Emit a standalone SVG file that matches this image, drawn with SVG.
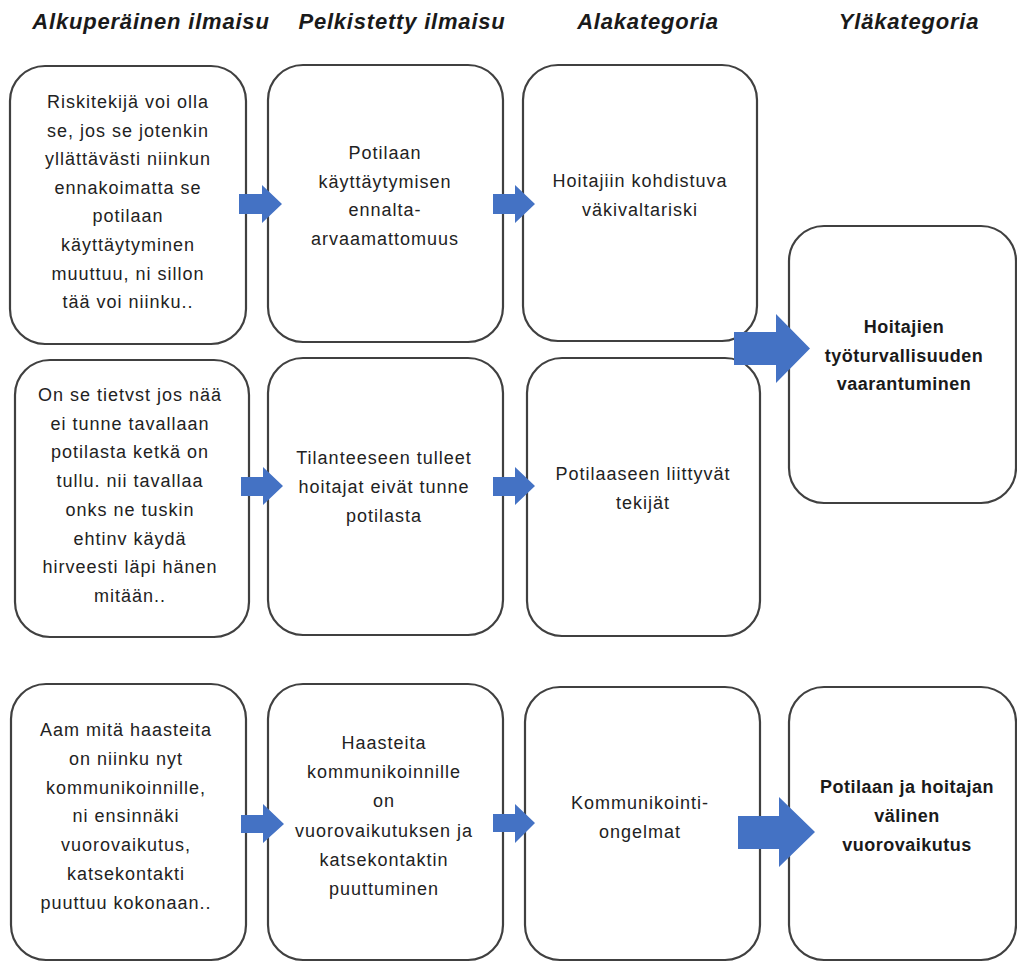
<svg xmlns="http://www.w3.org/2000/svg" width="1017" height="963" viewBox="0 0 1017 963">
<style>
.bg{fill:#ffffff}
.box{fill:#ffffff;stroke:#404040;stroke-width:2.2}
.hdr{font-family:"Liberation Sans",Arial,sans-serif;font-size:22px;font-weight:bold;font-style:italic;fill:#1a1a1a;text-anchor:middle;letter-spacing:0.8px}
.t{font-family:"Liberation Sans",Arial,sans-serif;font-size:18px;fill:#222222;text-anchor:middle;letter-spacing:1px}
.tb{font-family:"Liberation Sans",Arial,sans-serif;font-size:18px;font-weight:bold;fill:#1a1a1a;text-anchor:middle;letter-spacing:0.5px}
.arr{fill:#4472C4}
</style>
<rect class="bg" x="0" y="0" width="1017" height="963"/>
<g id="headers">
<text class="hdr" x="151" y="29">Alkuperäinen ilmaisu</text>
<text class="hdr" x="402" y="29">Pelkistetty ilmaisu</text>
<text class="hdr" x="648" y="29">Alakategoria</text>
<text class="hdr" x="909" y="29">Yläkategoria</text>
</g>
<g id="a1">
<rect class="box" x="10" y="66" width="236" height="278" rx="35"/>
<text class="t"><tspan x="128" y="108">Riskitekijä voi olla</tspan><tspan x="128" dy="28.6">se, jos se jotenkin</tspan><tspan x="128" dy="28.6">yllättävästi niinkun</tspan><tspan x="128" dy="28.6">ennakoimatta se</tspan><tspan x="128" dy="28.6">potilaan</tspan><tspan x="128" dy="28.6">käyttäytyminen</tspan><tspan x="128" dy="28.6">muuttuu, ni sillon</tspan><tspan x="128" dy="28.6">tää voi niinku..</tspan></text>
</g>
<g id="b1">
<rect class="box" x="268" y="65" width="235" height="277" rx="35"/>
<text class="t"><tspan x="385" y="159">Potilaan</tspan><tspan x="385" dy="28.5">käyttäytymisen</tspan><tspan x="385" dy="28.5">ennalta-</tspan><tspan x="385" dy="28.5">arvaamattomuus</tspan></text>
</g>
<g id="c1">
<rect class="box" x="523" y="65" width="234" height="276" rx="35"/>
<text class="t"><tspan x="640" y="187">Hoitajiin kohdistuva</tspan><tspan x="640" dy="29">väkivaltariski</tspan></text>
</g>
<g id="d1">
<rect class="box" x="789" y="226" width="227" height="277" rx="35"/>
<text class="tb"><tspan x="904" y="333">Hoitajien</tspan><tspan x="904" dy="28.5">työturvallisuuden</tspan><tspan x="904" dy="28.5">vaarantuminen</tspan></text>
</g>
<g id="a2">
<rect class="box" x="15" y="360" width="234" height="277" rx="35"/>
<text class="t"><tspan x="130" y="401">On se tietvst jos nää</tspan><tspan x="130" dy="28.7">ei tunne tavallaan</tspan><tspan x="130" dy="28.7">potilasta ketkä on</tspan><tspan x="130" dy="28.7">tullu. nii tavallaa</tspan><tspan x="130" dy="28.7">onks ne tuskin</tspan><tspan x="130" dy="28.7">ehtinv käydä</tspan><tspan x="130" dy="28.7">hirveesti läpi hänen</tspan><tspan x="130" dy="28.7">mitään..</tspan></text>
</g>
<g id="b2">
<rect class="box" x="268" y="358" width="235" height="277" rx="35"/>
<text class="t"><tspan x="384" y="464">Tilanteeseen tulleet</tspan><tspan x="384" dy="29">hoitajat eivät tunne</tspan><tspan x="384" dy="29">potilasta</tspan></text>
</g>
<g id="c2">
<rect class="box" x="527" y="358" width="233" height="278" rx="35"/>
<text class="t"><tspan x="643" y="480">Potilaaseen liittyvät</tspan><tspan x="643" dy="29">tekijät</tspan></text>
</g>
<g id="a3">
<rect class="box" x="11" y="684" width="235" height="276" rx="35"/>
<text class="t"><tspan x="126" y="736">Aam mitä haasteita</tspan><tspan x="126" dy="28.8">on niinku nyt</tspan><tspan x="126" dy="28.8">kommunikoinnille,</tspan><tspan x="126" dy="28.8">ni ensinnäki</tspan><tspan x="126" dy="28.8">vuorovaikutus,</tspan><tspan x="126" dy="28.8">katsekontakti</tspan><tspan x="126" dy="28.8">puuttuu kokonaan..</tspan></text>
</g>
<g id="b3">
<rect class="box" x="268" y="684" width="235" height="276" rx="35"/>
<text class="t"><tspan x="384" y="749">Haasteita</tspan><tspan x="384" dy="29.2">kommunikoinnille</tspan><tspan x="384" dy="29.2">on</tspan><tspan x="384" dy="29.2">vuorovaikutuksen ja</tspan><tspan x="384" dy="29.2">katsekontaktin</tspan><tspan x="384" dy="29.2">puuttuminen</tspan></text>
</g>
<g id="c3">
<rect class="box" x="525" y="687" width="235" height="273" rx="35"/>
<text class="t"><tspan x="640" y="809">Kommunikointi-</tspan><tspan x="640" dy="29">ongelmat</tspan></text>
</g>
<g id="d3">
<rect class="box" x="789" y="687" width="227" height="273" rx="35"/>
<text class="tb"><tspan x="907" y="793">Potilaan ja hoitajan</tspan><tspan x="907" dy="29">välinen</tspan><tspan x="907" dy="29">vuorovaikutus</tspan></text>
</g>
<g id="connectors">
<polygon class="arr" points="239,194 262,194 262,185 282,204 262,223 262,214 239,214"/>
<polygon class="arr" points="493,194 515,194 515,185 535,204 515,223 515,214 493,214"/>
<polygon class="arr" points="241,477 263,477 263,467 283,486 263,505 263,496 241,496"/>
<polygon class="arr" points="493,477 515,477 515,467 535,486 515,505 515,496 493,496"/>
<polygon class="arr" points="241,815 263,815 263,804 284,824 263,843 263,833 241,833"/>
<polygon class="arr" points="493,814 515,814 515,804 535,823 515,843 515,832 493,832"/>
<polygon class="arr" points="734,332 776,332 776,314 810,348.5 776,383 776,365 734,365"/>
<polygon class="arr" points="738,816 779,816 779,797 815,832 779,867 779,849 738,849"/>
</g>
</svg>
